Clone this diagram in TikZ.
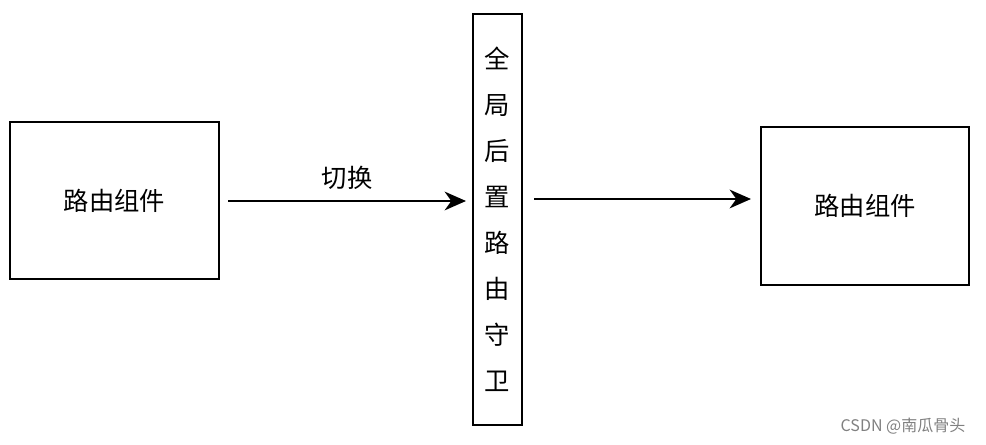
\documentclass[tikz,border=0pt]{standalone}
\usepackage{fontspec}
\setmainfont{Noto Sans CJK SC}
\usetikzlibrary{arrows.meta}
\begin{document}
\begin{tikzpicture}[x=0.75pt,y=-0.75pt,
  box/.style={draw,line width=1.1pt,inner sep=0pt},
  conn/.style={line width=1.8pt,-{Stealth[length=16pt,width=14pt,inset=5pt]}},
  lbl/.style={font=\fontsize{19}{22}\selectfont}]
\useasboundingbox (0,0) rectangle (986,445);
\node[box,minimum width=209*0.75pt,minimum height=157*0.75pt,lbl] (a) at (114.5,200.5) {路由组件};
\node[box,minimum width=49*0.75pt,minimum height=411*0.75pt] (g) at (497.5,219.5) {};
\node[lbl,align=center,font=\fontsize{19}{34.5}\selectfont] at (g) {全\\局\\后\\置\\路\\由\\守\\卫};
\node[box,minimum width=208*0.75pt,minimum height=158*0.75pt,lbl] (b) at (865,206) {路由组件};
\coordinate (a1) at (228,201);
\coordinate (g1) at (466,201);
\coordinate (g2) at (534,199);
\coordinate (b1) at (751,199);
\draw[conn] (a1) -- (g1) node[midway,above=4pt,lbl] {切换};
\draw[conn] (g2) -- (b1);
\node[text=gray,font=\fontsize{12}{14}\selectfont] (w) at (903,426) {CSDN @南瓜骨头};
\end{tikzpicture}
\end{document}
